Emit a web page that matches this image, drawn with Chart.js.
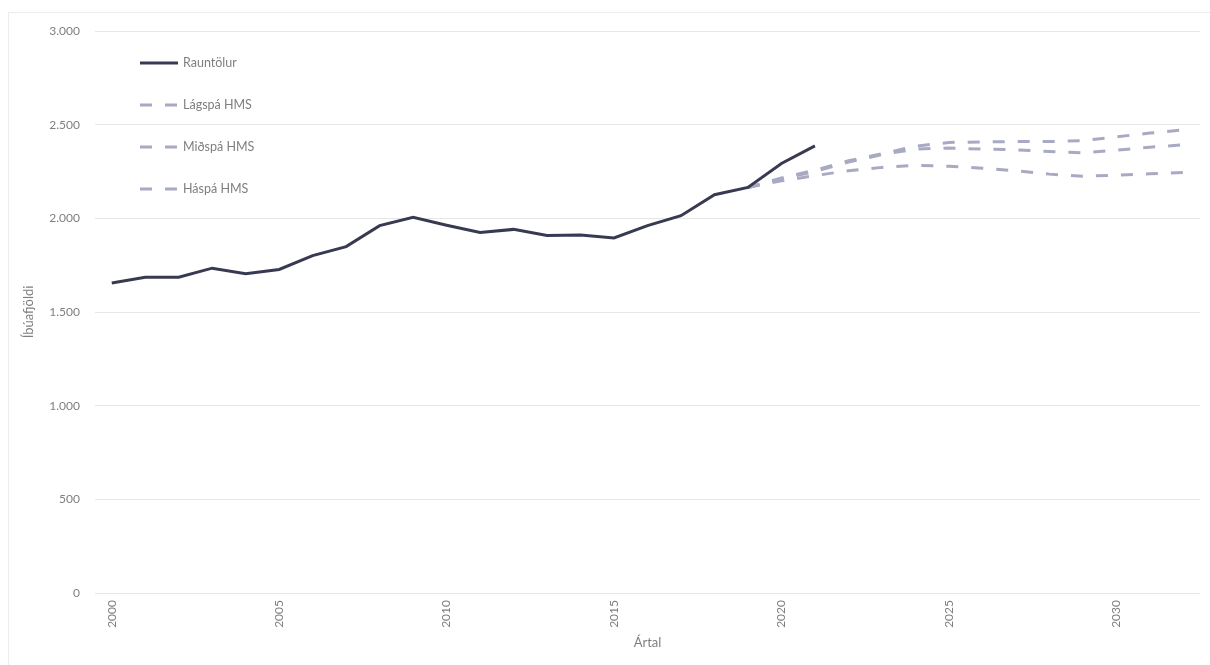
<!DOCTYPE html>
<html lang="is">
<head>
<meta charset="utf-8">
<title>Íbúafjöldi – rauntölur og spár HMS</title>
<script src="https://cdn.jsdelivr.net/npm/chart.js@4.4.1/dist/chart.umd.min.js"></script>
<style>
    html, body { margin: 0; padding: 0; background: #fff; overflow: hidden; }
    #wrap { position: relative; width: 1210px; height: 665px; overflow: hidden; }
    #frame {
        position: absolute; left: 8px; top: 12px; width: 1210px; height: 660px;
        border-left: 1px solid #ececec; border-top: 1px solid #ececec;
        pointer-events: none;
    }
</style>
</head>
<body>
<div id="wrap">
    <canvas id="chart" width="1210" height="665"></canvas>
    <div id="frame"></div>
</div>
<script>
// Years on the x axis
const years = [];
for (let y = 2000; y <= 2032; y++) years.push(String(y));

// Rauntölur 2000-2021
const actual = [1655, 1686, 1686, 1734, 1704, 1727, 1801, 1849, 1961, 2005,
                1963, 1925, 1941, 1908, 1911, 1895, 1961, 2014, 2126, 2165,
                2293, 2387];

// Forecasts 2019-2032 (start at last shared point)
const lowForecast  = [2165, 2200, 2228, 2254, 2272, 2283, 2278, 2268, 2254, 2236, 2225, 2230, 2238, 2245];
const midForecast  = [2165, 2210, 2250, 2300, 2340, 2370, 2375, 2370, 2366, 2357, 2350, 2364, 2380, 2392];
const highForecast = [2165, 2215, 2257, 2307, 2345, 2385, 2405, 2408, 2410, 2410, 2415, 2435, 2455, 2472];

const yTicks = [0, 500, 1000, 1500, 2000, 2500, 3000];

// Pad series so they line up with the year list
function fromYear(startYear, values) {
    const out = years.map(() => null);
    values.forEach((v, i) => { out[startYear - 2000 + i] = v; });
    return out;
}

const darkLine = '#373a50';
const lightLine = '#a8aac3';
const textGrey = '#7f7f7f';
const dash = [12, 13];

// Legend drawn inside the plot, top-left, one item per row
const insideLegend = {
    id: 'insideLegend',
    afterDraw(chart) {
        const ctx = chart.ctx;
        const x0 = 140, y0 = 63, gap = 42, len = 38;
        ctx.save();
        chart.data.datasets.forEach((ds, i) => {
            const y = y0 + i * gap;
            ctx.beginPath();
            ctx.setLineDash(ds.borderDash || []);
            ctx.strokeStyle = ds.borderColor;
            ctx.lineWidth = ds.borderWidth;
            ctx.moveTo(x0, y);
            ctx.lineTo(x0 + len, y);
            ctx.stroke();
            ctx.setLineDash([]);
            ctx.fillStyle = textGrey;
            ctx.font = '12.5px Lato';
            ctx.textBaseline = 'middle';
            ctx.fillText(ds.label, x0 + len + 5, y);
        });
        ctx.restore();
    }
};

const ctx = document.getElementById('chart');
new Chart(ctx, {
    type: 'line',
    data: {
        labels: years,
        datasets: [
            {
                label: 'Rauntölur',
                data: fromYear(2000, actual),
                borderColor: darkLine,
                borderWidth: 3
            },
            {
                label: 'Lágspá HMS',
                data: fromYear(2019, lowForecast),
                borderColor: lightLine,
                borderWidth: 3,
                borderDash: dash
            },
            {
                label: 'Miðspá HMS',
                data: fromYear(2019, midForecast),
                borderColor: lightLine,
                borderWidth: 3,
                borderDash: dash
            },
            {
                label: 'Háspá HMS',
                data: fromYear(2019, highForecast),
                borderColor: lightLine,
                borderWidth: 3,
                borderDash: dash
            }
        ]
    },
    options: {
        responsive: false,
        animation: false,
        layout: { padding: { top: 31, right: 10, left: 0, bottom: 0 } },
        elements: {
            point: { radius: 0 },
            line: { tension: 0, borderCapStyle: 'butt' }
        },
        plugins: {
            legend: { display: false },
            tooltip: { enabled: false }
        },
        scales: {
            x: {
                offset: true,
                grid: { display: false, drawTicks: false },
                border: { display: false },
                ticks: {
                    autoSkip: false,
                    minRotation: 90,
                    maxRotation: 90,
                    padding: 7,
                    color: textGrey,
                    font: { family: 'Lato', size: 12 },
                    callback: function (value) {
                        const label = this.getLabelForValue(value);
                        return Number(label) % 5 === 0 ? label : '';
                    }
                },
                title: {
                    display: true,
                    text: 'Ártal',
                    color: textGrey,
                    font: { family: 'Lato', size: 13 },
                    padding: { top: 0, bottom: 14 }
                },
                afterFit(scale) { scale.height = 72; }
            },
            y: {
                min: 0,
                max: 3000,
                afterBuildTicks(scale) {
                    scale.ticks = yTicks.map(v => ({ value: v }));
                },
                grid: { color: '#e6e6e6', drawTicks: false },
                border: { display: false },
                ticks: {
                    padding: 15,
                    color: textGrey,
                    font: { family: 'Lato', size: 12 },
                    callback: v => String(v).replace(/\B(?=(\d{3})+(?!\d))/g, '.')
                },
                title: {
                    display: true,
                    text: 'Íbúafjöldi',
                    color: textGrey,
                    font: { family: 'Lato', size: 13 },
                    padding: { top: 21, bottom: 0 }
                },
                afterFit(scale) { scale.width = 95; }
            }
        }
    },
    plugins: [insideLegend]
});
</script>
</body>
</html>
